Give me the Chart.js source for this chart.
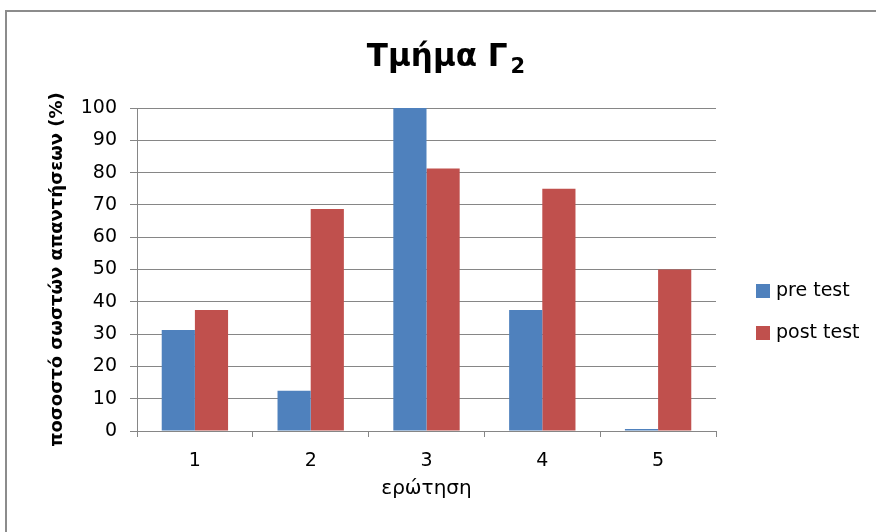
<!DOCTYPE html>
<html>
<head>
<meta charset="utf-8">
<script src="https://cdn.jsdelivr.net/npm/chart.js@4.4.1/dist/chart.umd.min.js"></script>
<style>
  html, body { margin: 0; padding: 0; background: #ffffff; }
  #c { display: block; }
</style>
</head>
<body>
<canvas id="c" width="876" height="532"></canvas>
<script>
// Percentage of correct answers per question, class Γ2
const questions = ['1', '2', '3', '4', '5'];
const preTest = [31.25, 12.5, 100, 37.5, 0];
const postTest = [37.5, 68.75, 81.25, 75, 50];
const yTicks = [0, 10, 20, 30, 40, 50, 60, 70, 80, 90, 100];
const seriesNames = ['pre test', 'post test'];

const titleMain = 'Τμήμα Γ';
const titleSub = '2';
const yAxisTitle = 'ποσοστό σωστών απαντήσεων (%)';
const xAxisTitle = 'ερώτηση';

const FONT = "'DejaVu Sans', 'Noto Sans', sans-serif";
const GRID = '#868686';
const COLORS = ['#4F81BD', '#C0504D'];

// Outer frame of the chart object
const framePlugin = {
  id: 'frame',
  beforeDraw(chart) {
    const ctx = chart.ctx;
    ctx.save();
    ctx.fillStyle = '#ffffff';
    ctx.fillRect(0, 0, chart.width, chart.height);
    ctx.strokeStyle = '#8c8c8c';
    ctx.lineWidth = 2;
    ctx.strokeRect(6, 11, chart.width + 20, chart.height + 20);
    ctx.restore();
  }
};

// Title with subscript and the legend on the right
const decorPlugin = {
  id: 'decor',
  afterDraw(chart) {
    const ctx = chart.ctx;
    ctx.save();
    ctx.fillStyle = '#000000';
    ctx.textBaseline = 'alphabetic';
    ctx.font = "bold 31px " + FONT;
    const wMain = ctx.measureText(titleMain).width;
    ctx.font = "bold 21px " + FONT;
    const wSub = ctx.measureText(titleSub).width;
    const total = wMain + 3 + wSub;
    const x0 = 446 - total / 2;
    ctx.font = "bold 31px " + FONT;
    ctx.textAlign = 'left';
    ctx.fillText(titleMain, x0, 66);
    ctx.font = "bold 21px " + FONT;
    ctx.fillText(titleSub, x0 + wMain + 3, 73);

    // legend
    ctx.font = "19px " + FONT;
    ctx.textBaseline = 'middle';
    chart.data.datasets.forEach((ds, i) => {
      const cy = 291 + i * 42;
      ctx.fillStyle = ds.backgroundColor;
      ctx.fillRect(756, cy - 7, 14, 14);
      ctx.fillStyle = '#000000';
      ctx.fillText(ds.label, 776, cy);
    });
    ctx.restore();
  }
};

new Chart(document.getElementById('c'), {
  type: 'bar',
  data: {
    labels: questions,
    datasets: [
      { label: seriesNames[0], data: preTest, backgroundColor: COLORS[0], minBarLength: 2 },
      { label: seriesNames[1], data: postTest, backgroundColor: COLORS[1] }
    ]
  },
  options: {
    responsive: false,
    animation: false,
    devicePixelRatio: 1,
    layout: { padding: { top: 108, right: 160, bottom: 0, left: 0 } },
    datasets: {
      bar: { barPercentage: 1.0, categoryPercentage: 0.573, borderWidth: 0 }
    },
    plugins: {
      legend: { display: false },
      title: { display: false },
      tooltip: { enabled: false }
    },
    scales: {
      x: {
        afterFit(scale) { scale.height = 101; },
        grid: {
          offset: true,
          drawOnChartArea: false,
          drawTicks: true,
          tickLength: 6,
          color: GRID,
          lineWidth: 1
        },
        border: { display: true, color: GRID, width: 1 },
        ticks: {
          color: '#000000',
          font: { family: FONT, size: 19 },
          padding: 13
        },
        title: {
          display: true,
          text: xAxisTitle,
          color: '#000000',
          font: { family: FONT, size: 20 },
          padding: { top: 0, bottom: 31 }
        }
      },
      y: {
        min: 0,
        max: 100,
        afterFit(scale) { scale.width = 137; },
        afterBuildTicks(scale) { scale.ticks = yTicks.map(v => ({ value: v })); },
        grid: {
          drawTicks: true,
          tickLength: 7,
          color: GRID,
          lineWidth: 1
        },
        border: { display: true, color: GRID, width: 1 },
        ticks: {
          color: '#000000',
          font: { family: FONT, size: 19 },
          padding: 13
        },
        title: {
          display: true,
          text: yAxisTitle,
          color: '#000000',
          font: { family: FONT, size: 18, weight: 'bold' },
          padding: { top: 47, bottom: 0 }
        }
      }
    }
  },
  plugins: [framePlugin, decorPlugin]
});
</script>
</body>
</html>
